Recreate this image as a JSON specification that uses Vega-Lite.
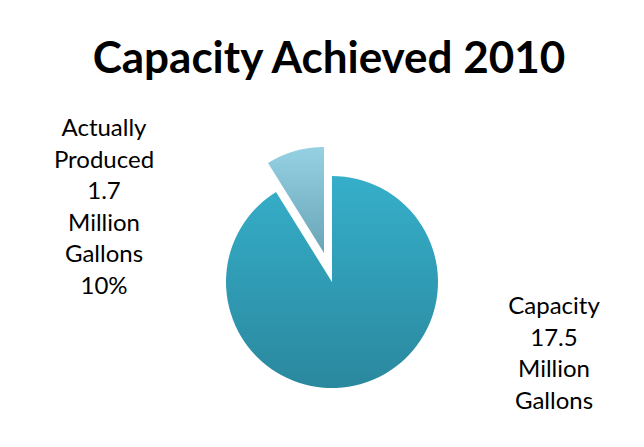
{
  "$schema": "https://vega.github.io/schema/vega-lite/v6.json",
  "autosize": {"type": "none"},
  "width": 212,
  "height": 212,
  "padding": {"left": 226, "top": 176, "right": 206, "bottom": 59},
  "background": "white",
  "config": {"view": {"stroke": null}},
  "title": {
    "text": "Capacity Achieved 2010",
    "font": "Lato",
    "fontSize": 44,
    "fontWeight": "bold",
    "color": "#000000",
    "anchor": "middle",
    "baseline": "alphabetic",
    "offset": 0,
    "dx": -3
  },
  "data": {
    "values": [
      {"category": "Capacity", "value": 17.5, "label": "Capacity\n17.5\nMillion\nGallons"},
      {"category": "Actually Produced", "value": 1.7, "label": "Actually\nProduced\n1.7\nMillion\nGallons\n10%"}
    ]
  },
  "transform": [
    {"stack": "value", "groupby": [], "offset": "normalize", "as": ["v0", "v1"], "sort": [{"field": "category", "order": "descending"}]}
  ],
  "resolve": {"scale": {"theta": "shared"}},
  "layer": [
    {
      "transform": [{"filter": "datum.category === 'Capacity'"}],
      "mark": {
        "type": "arc",
        "fill": {"gradient": "linear", "x1": 0, "y1": 0, "x2": 0, "y2": 1,
                 "stops": [{"offset": 0, "color": "#36afca"}, {"offset": 1, "color": "#2a889e"}]}
      },
      "encoding": {
        "theta": {"field": "v0", "type": "quantitative", "scale": {"domain": [0, 1]}},
        "theta2": {"field": "v1"}
      }
    },
    {
      "transform": [{"filter": "datum.category === 'Actually Produced'"}],
      "mark": {
        "type": "arc",
        "xOffset": -8,
        "yOffset": -29,
        "fill": {"gradient": "linear", "x1": 0, "y1": 0, "x2": 0, "y2": 1,
                 "stops": [{"offset": 0, "color": "#95d1e3"}, {"offset": 1, "color": "#68a5b6"}]}
      },
      "encoding": {
        "theta": {"field": "v0", "type": "quantitative", "scale": {"domain": [0, 1]}},
        "theta2": {"field": "v1"}
      }
    },
    {
      "transform": [{"filter": "datum.category === 'Actually Produced'"}],
      "mark": {"type": "text", "font": "Lato", "fontSize": 24, "color": "#000000", "align": "center", "baseline": "alphabetic", "lineBreak": "\n", "lineHeight": 31.6, "dx": -228, "dy": -146},
      "encoding": {"text": {"field": "label"}}
    },
    {
      "transform": [{"filter": "datum.category === 'Capacity'"}],
      "mark": {"type": "text", "font": "Lato", "fontSize": 24, "color": "#000000", "align": "center", "baseline": "alphabetic", "lineBreak": "\n", "lineHeight": 31.6, "dx": 222, "dy": 32},
      "encoding": {"text": {"field": "label"}}
    }
  ]
}
